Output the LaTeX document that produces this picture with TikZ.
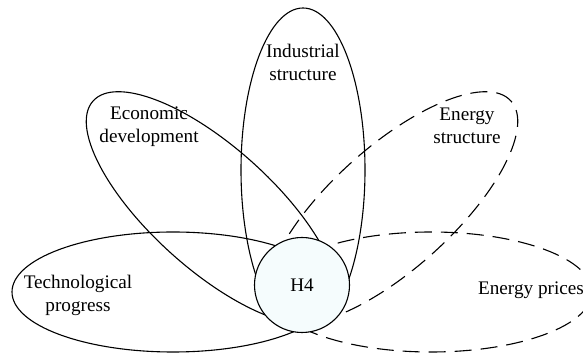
\documentclass[tikz,border=0pt]{standalone}
\usepackage{fontspec}
\setmainfont{Liberation Serif}
\usetikzlibrary{shapes.geometric}
\definecolor{hubfill}{RGB}{245,252,253}

\begin{document}
\begin{tikzpicture}[x=1pt,y=1pt,font=\fontsize{19.2}{23}\selectfont,
 petal/.style={draw,ellipse,line width=1.1pt,inner sep=0pt},
 dpetal/.style={petal,dash pattern=on 17pt off 9pt},
 lbl/.style={align=center,inner sep=0pt}]
\clip (0,0) rectangle (583,355);
% petals
\node[petal,minimum width=124pt,minimum height=324pt] (ind) at (303,185) {};
\node[petal,minimum width=320pt,minimum height=122pt,rotate=-42] (eco) at (212,147) {};
\node[dpetal,minimum width=320pt,minimum height=122pt,rotate=42] (ens) at (392,147) {};
\node[petal,minimum width=322pt,minimum height=120pt] (tec) at (173,63) {};
\node[dpetal,minimum width=322pt,minimum height=120pt] (enp) at (431,63) {};
% hub
\node[circle,draw,line width=1.1pt,fill=hubfill,minimum size=95pt,inner sep=0pt] (h4) at (302,70) {H4};
% labels
\node[lbl] (ind-l) at (303,293) {Industrial\\structure};
\node[lbl] (eco-l) at (149,228) {Economic\\development};
\node[lbl] (ens-l) at (467,229) {Energy\\structure};
\node[lbl] (tec-l) at (78,60) {Technological\\progress};
\node[lbl] (enp-l) at (531,65) {Energy prices};
\end{tikzpicture}
\end{document}
